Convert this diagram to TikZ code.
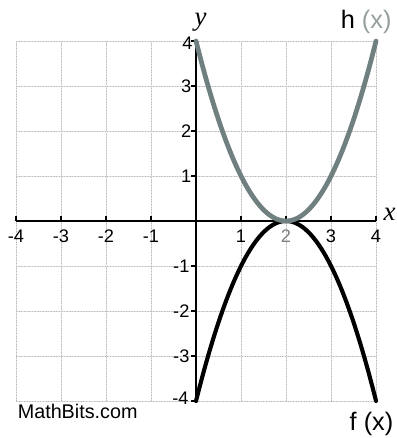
\documentclass[tikz,border=0pt]{standalone}
\usepackage{fontspec}
\setmainfont{Liberation Sans}
\newfontfamily\serifit{Liberation Serif}
\definecolor{hcol}{RGB}{112,128,128}
\definecolor{hlab}{RGB}{150,160,160}
\definecolor{gridc}{RGB}{222,222,222}
\begin{document}
\begin{tikzpicture}[x=1cm,y=1cm,
  gridline/.style={gridc, line width=0.6pt},
  griddot/.style={gray!55, line width=0.3pt, dash pattern=on 0.5pt off 1.2pt},
  axisline/.style={black, line width=0.9pt},
  tickmark/.style={black, line width=0.9pt},
  numlab/.style={font=\fontsize{11.5}{13}\selectfont, inner sep=0pt},
  funlab/.style={font=\fontsize{16}{18}\selectfont, inner sep=0pt},
  axlab/.style={font=\fontsize{17}{19}\selectfont\serifit\itshape, inner sep=0pt},
  hcurve/.style={hcol, line width=3pt, line cap=round},
  fcurve/.style={black, line width=2.6pt, line cap=round},
]
\useasboundingbox (-4.356,-4.822) rectangle (4.444,4.911);
\fill[white] (-4.356,-4.822) rectangle (4.444,4.911);
% grid
\foreach \i in {-4,...,4} {
  \draw[gridline] (\i,-4) -- (\i,4);
  \draw[gridline] (-4,\i) -- (4,\i);
  \draw[griddot] (\i,-4) -- (\i,4);
  \draw[griddot] (-4,\i) -- (4,\i);
}
% axes
\coordinate (xl) at (-4,0);
\coordinate (xr) at (4,0);
\coordinate (yb) at (0,-4);
\coordinate (yt) at (0,4);
\draw[axisline] (xl) -- (xr);
\draw[axisline] (yb) -- (yt);
% ticks and labels
\foreach \i in {-4,-3,-2,-1,1,2,3,4} {
  \draw[tickmark] (\i,0) -- (\i,0.12);
  \draw[tickmark] (0,\i) -- (-0.12,\i);
}
\foreach \i in {-4,-3,-2,-1,1,3,4} {
  \node[numlab] (xlab\i) at (\i,-0.33) {\i};
}
\node[numlab, text=gray] (xlab2) at (2,-0.33) {2};
\foreach \i in {1,2,3} {
  \node[numlab, anchor=east] (ylab\i) at (-0.1,\i) {\i};
}
\node[numlab, anchor=east] (ylab4) at (-0.07,3.96) {4};
\foreach \i in {-1,-2,-3} {
  \node[numlab, anchor=east] (ylabm\i) at (-0.14,\i) {\i};
}
\node[numlab, anchor=east] (ylabm4) at (-0.16,-3.93) {-4};
% curves
\draw[fcurve, domain=0:4, samples=80, smooth] plot (\x, {-(\x-2)^2});
\draw[hcurve, domain=0:4, samples=80, smooth] plot (\x, {(\x-2)^2});
% labels
\node[axlab] (ylabel) at (0.1,4.42) {y};
\node[axlab] (xlabel) at (4.3,0.15) {x};
\node[funlab] (hlabel) at (3.78,4.42) {h {\color{hlab}(x)}};
\node[funlab] (flabel) at (3.9,-4.5) {f (x)};
\node[font=\fontsize{12.5}{14}\selectfont, inner sep=0pt] (mb) at (-2.63,-4.24) {MathBits.com};
\end{tikzpicture}
\end{document}
